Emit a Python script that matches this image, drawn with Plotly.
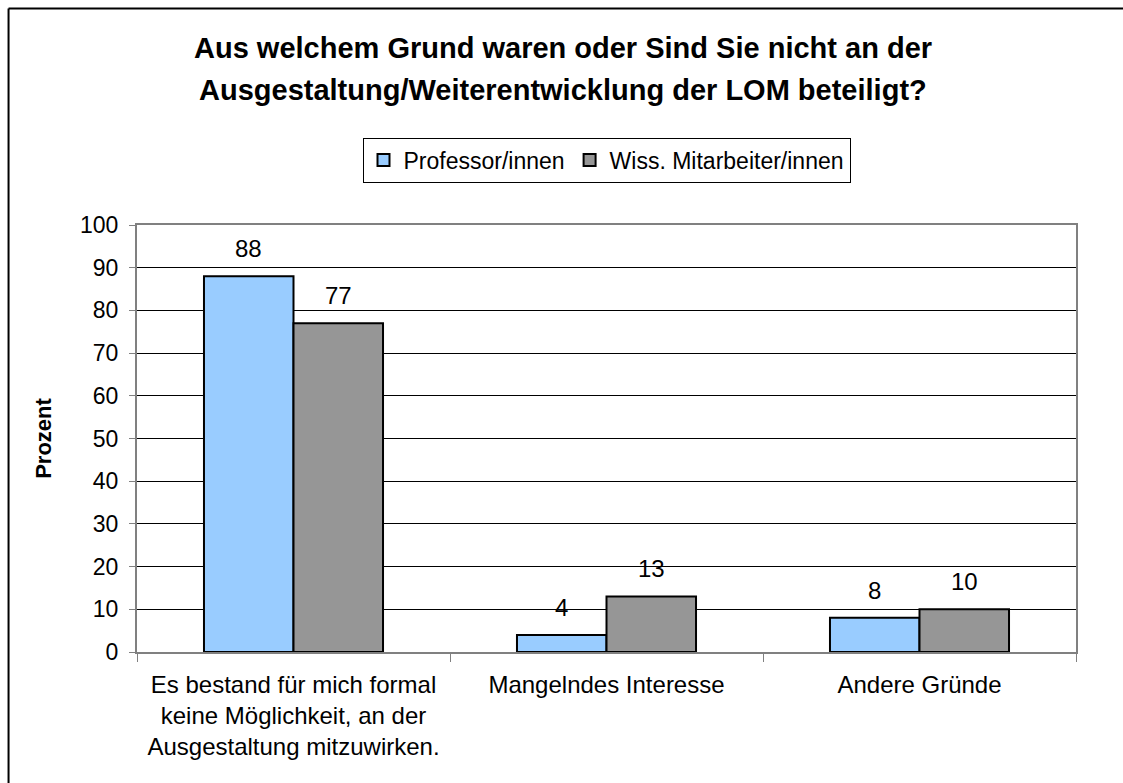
import plotly.graph_objects as go

categories = [
    "Es bestand für mich formal<br>keine Möglichkeit, an der<br>Ausgestaltung mitzuwirken.",
    "Mangelndes Interesse",
    "Andere Gründe",
]
series_names = ["Professor/innen", "Wiss. Mitarbeiter/innen"]
prof_values = [88, 4, 8]
wiss_values = [77, 13, 10]
series_values = [prof_values, wiss_values]
series_colors = ["#99CCFF", "#969696"]
y_ticks = [0, 10, 20, 30, 40, 50, 60, 70, 80, 90, 100]
title_lines = [
    "Aus welchem Grund waren oder Sind Sie nicht an der",
    "Ausgestaltung/Weiterentwicklung der LOM beteiligt?",
]

FONT = "Liberation Sans, Arial, sans-serif"

fig = go.Figure()
for name, vals, col in zip(series_names, series_values, series_colors):
    fig.add_trace(go.Bar(
        name=name, x=categories, y=vals,
        marker=dict(color=col, line=dict(color="#000000", width=2)),
    ))

# value labels
bar_px = 44.75
for i, vals in enumerate(series_values):
    shift = -bar_px if i == 0 else bar_px
    for c, v in zip(categories, vals):
        fig.add_annotation(
            x=c, y=v, xref="x", yref="y", text=str(v), showarrow=False,
            xshift=shift, yshift=12, yanchor="bottom",
            font=dict(family=FONT, size=24, color="#000000"),
        )

# title lines
for line, ypos in zip(title_lines, [1.4145, 1.316]):
    fig.add_annotation(
        x=0.4535, y=ypos, xref="paper", yref="paper", text="<b>" + line + "</b>",
        showarrow=False, xanchor="center", yanchor="middle",
        font=dict(family=FONT, size=29, color="#000000"),
    )

# outer chart border (top and left edges visible in the frame)
fig.add_shape(type="line", xref="paper", yref="paper",
              x0=-0.1368, x1=1.06, y0=1.507, y1=1.507,
              line=dict(color="#000000", width=2), layer="below")
fig.add_shape(type="line", xref="paper", yref="paper",
              x0=-0.1368, x1=-0.1368, y0=-0.32, y1=1.507,
              line=dict(color="#000000", width=2), layer="below")

fig.update_layout(
    width=1123, height=783,
    margin=dict(l=137, r=47, t=225, b=131),
    paper_bgcolor="#FFFFFF", plot_bgcolor="#FFFFFF",
    barmode="group", bargap=0.428, bargroupgap=0,
    font=dict(family=FONT, size=23, color="#000000"),
    legend=dict(
        orientation="h", x=0.5, xanchor="center", y=1.152, yanchor="middle",
        xref="paper", yref="paper",
        bordercolor="#000000", borderwidth=1, bgcolor="#FFFFFF",
        font=dict(family=FONT, size=23, color="#000000"),
        itemwidth=30, tracegroupgap=0,
    ),
    showlegend=True,
)

fig.update_xaxes(
    showline=True, linecolor="#808080", linewidth=2, mirror=True,
    ticks="outside", tickson="boundaries", ticklen=8, tickcolor="#808080", tickwidth=1,
    showgrid=False, tickfont=dict(family=FONT, size=24, color="#000000"),
    ticklabelstandoff=10,
)
fig.update_yaxes(
    range=[0, 100], tickvals=y_ticks, showline=True, linecolor="#808080", linewidth=2,
    mirror=True, ticks="outside", ticklen=6, tickcolor="#808080",
    showgrid=True, gridcolor="#000000", gridwidth=1, zeroline=False,
    tickfont=dict(family=FONT, size=23, color="#000000"),
    ticklabelstandoff=6,
    title=dict(text="<b>Prozent</b>", font=dict(family=FONT, size=22, color="#000000"), standoff=22),
)

fig.write_html("out.html", config={"displayModeBar": False},
               post_script="document.body.style.margin='0';")
